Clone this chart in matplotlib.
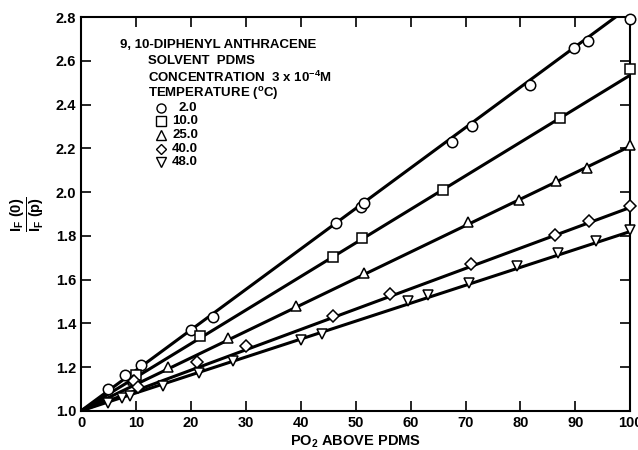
import matplotlib.pyplot as plt
import numpy as np

plt.rcParams['font.family'] = 'Liberation Sans'
plt.rcParams['font.weight'] = 'bold'
plt.rcParams['mathtext.fontset'] = 'custom'
plt.rcParams['mathtext.rm'] = 'Liberation Sans:bold'
plt.rcParams['mathtext.it'] = 'Liberation Sans:bold'
plt.rcParams['mathtext.bf'] = 'Liberation Sans:bold'

# temperature series (oC)
temps = ['2.0', '10.0', '25.0', '40.0', '48.0']
markers = ['o', 's', '^', 'D', 'v']

x_2 = [5, 8, 11, 20, 24, 46.5, 51, 51.5, 67.5, 71.2, 81.8, 89.8, 92.3, 100]
y_2 = [1.10, 1.165, 1.21, 1.37, 1.43, 1.86, 1.93, 1.95, 2.23, 2.30, 2.49, 2.66, 2.69, 2.79]

x_10 = [10, 21.7, 45.8, 51.2, 65.9, 87.2, 100]
y_10 = [1.165, 1.34, 1.705, 1.79, 2.01, 2.34, 2.565]

x_25 = [9.5, 15.8, 26.8, 39.2, 51.6, 70.4, 79.8, 86.5, 92.1, 100]
y_25 = [1.14, 1.20, 1.335, 1.48, 1.63, 1.865, 1.965, 2.05, 2.11, 2.215]

x_40 = [9.6, 10.4, 21.2, 30, 45.8, 56.3, 71, 86.3, 92.4, 100]
y_40 = [1.135, 1.11, 1.225, 1.295, 1.435, 1.535, 1.67, 1.805, 1.87, 1.935]

x_48 = [5, 7.4, 8.9, 14.9, 21.4, 27.6, 40, 43.8, 59.6, 63.1, 70.7, 79.4, 86.9, 93.7, 100]
y_48 = [1.035, 1.058, 1.068, 1.115, 1.175, 1.23, 1.325, 1.35, 1.50, 1.53, 1.585, 1.66, 1.72, 1.775, 1.825]

# fitted lines: value at PO2 = 100, all start at (0, 1.0)
fit_end = [2.85, 2.535, 2.21, 1.93, 1.82]

xs = [x_2, x_10, x_25, x_40, x_48]
ys = [y_2, y_10, y_25, y_40, y_48]

def msize(m, base):
    if m == 'D':
        return base - 1
    return base

fig = plt.figure(figsize=(6.38, 4.5), dpi=100)
ax = fig.add_axes([0.127, 0.087, 0.861, 0.875])

for i in range(5):
    ax.plot([0, 100], [1.0, fit_end[i]], color='black', lw=2.2, zorder=2)
    ax.plot(xs[i], ys[i], linestyle='none', marker=markers[i], ms=msize(markers[i], 7.5),
            mfc='white', mec='black', mew=1.1, zorder=3, clip_on=False)

ax.set_xlim(0, 100)
ax.set_ylim(1.0, 2.8)
ax.set_xticks(np.arange(0, 101, 10))
ax.set_yticks(np.round(np.arange(1.0, 2.81, 0.2), 1))
ax.tick_params(direction='in', length=7, width=1.2, top=True, right=True, labelsize=10.5)
for s in ax.spines.values():
    s.set_linewidth(1.5)

ax.set_xlabel('PO$_2$ ABOVE PDMS', fontsize=10.5, fontweight='bold', labelpad=3)
ax.set_ylabel(r'$\frac{I_F\ (0)}{I_F\ (p)}$', fontsize=15, labelpad=6)

# annotation block
fs = 9.5
ax.text(0.071, 0.929, '9, 10-DIPHENYL ANTHRACENE', transform=ax.transAxes, fontsize=fs, va='center')
ax.text(0.122, 0.888, 'SOLVENT  PDMS', transform=ax.transAxes, fontsize=fs, va='center')
ax.text(0.122, 0.848, r'CONCENTRATION  3 x 10$^{-4}$M', transform=ax.transAxes, fontsize=fs, va='center')
ax.text(0.122, 0.807, r'TEMPERATURE ($^{\rm o}$C)', transform=ax.transAxes, fontsize=fs, va='center')
leg_y = [0.769, 0.736, 0.700, 0.665, 0.632]
for i in range(5):
    ax.plot([0.146], [leg_y[i]], transform=ax.transAxes, marker=markers[i],
            ms=msize(markers[i], 6.5), mfc='white', mec='black', mew=1.0, linestyle='none')
    ax.text(0.166 + (0.012 if i == 0 else 0), leg_y[i], temps[i], transform=ax.transAxes,
            fontsize=fs, va='center')

fig.savefig('out.png', dpi=100)
